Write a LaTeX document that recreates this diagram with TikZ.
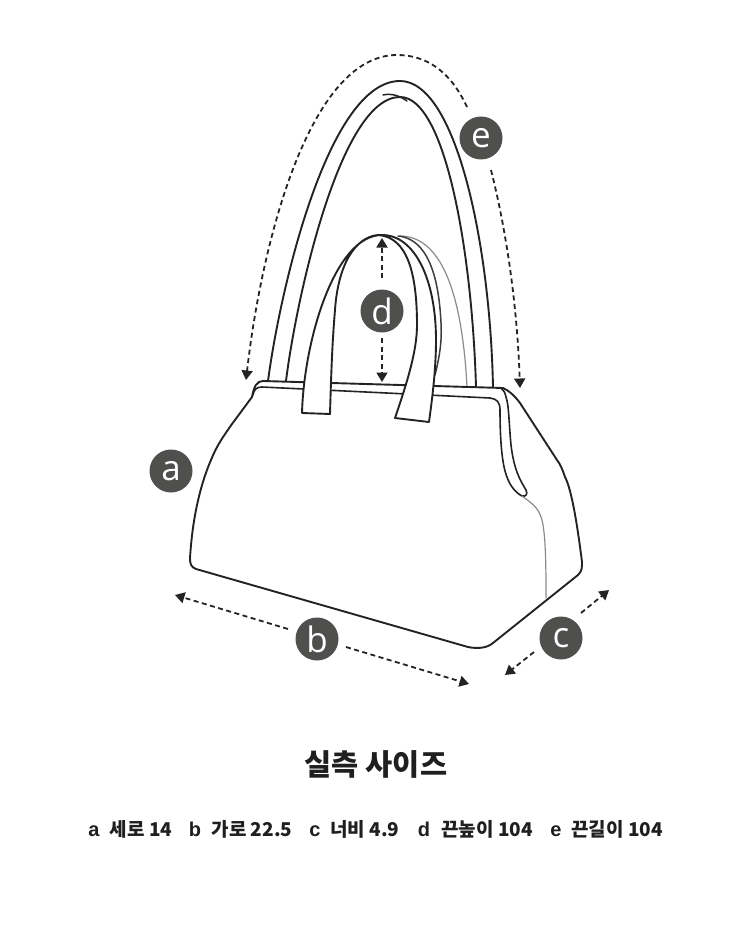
\documentclass[tikz,border=0pt]{standalone}
\usepackage{fontspec}
\setmainfont{Open Sans}
\newfontfamily\cjk{Noto Sans CJK KR}
\newfontfamily\keyfont{Liberation Sans}
\usetikzlibrary{arrows.meta}
\definecolor{ink}{HTML}{222322}
\definecolor{softink}{HTML}{3C3D3C}
\definecolor{badgec}{HTML}{4F504E}
\definecolor{seam}{HTML}{8A8B8A}
\definecolor{txt}{HTML}{1E1F1E}
\tikzset{
 outline/.style={draw=ink,line width=1.9pt,line join=round,line cap=round},
 thinline/.style={draw=seam,line width=1.2pt,line cap=round},
 badge/.style={circle,fill=badgec,draw=none,minimum size=43pt,inner sep=0pt,text=white,font=\fontsize{35}{35}\selectfont},
 dim/.style={draw=ink,line width=1.8pt,dash pattern=on 5pt off 3.5pt,-{Triangle[length=9.5pt,width=11pt]}},
 legend/.style={text=txt,inner sep=0pt,anchor=base,font=\cjk\bfseries\fontsize{19}{19}\selectfont},
 legendkey/.style={text=txt,inner sep=0pt,anchor=base,font=\keyfont\bfseries\fontsize{20}{20}\selectfont},
 title/.style={text=txt,inner sep=0pt,font=\cjk\bfseries\fontsize{29.5}{30}\selectfont}
}
\begin{document}
\begin{tikzpicture}[x=1pt,y=-1pt]
\useasboundingbox (0,0) rectangle (750,928);
% long strap
\draw[outline] (268,381) .. controls (280,290) and (328,81) .. (400,81) .. controls (455,81) and (490,240) .. (493,387);
\draw[outline] (286,381) .. controls (296,300) and (340,97) .. (400,97) .. controls (445,97) and (472,250) .. (476,387);
\draw[outline,line width=1.5pt] (383,95) .. controls (392,93) and (400,96) .. (407,101);
% back handle
\draw[thinline] (400,236) .. controls (440,236) and (462,290) .. (467,387);
\draw[outline,draw=softink,line width=1.5pt] (398,236) .. controls (420,238) and (438,260) .. (441,323) .. controls (442,340) and (440,355) .. (435,375);
% body
\draw[outline,fill=white] (252,397) -- (232,424) .. controls (225,434) and (220,441) .. (215,451) .. controls (203,476) and (193,510) .. (190,558) .. controls (190,564) and (191,567) .. (196,569)
 -- (468,647) .. controls (478,649) and (487,648) .. (493,643)
 -- (578,575) .. controls (582,571) and (582,568) .. (582,562)
 .. controls (578,530) and (572,490) .. (565,477) .. controls (562,468) and (560,464) .. (557,460)
 -- (520,403) .. controls (515,396) and (508,390) .. (503,388) -- (263,381) .. controls (257,381) and (254,386) .. (252,397) -- cycle;
% rim
\draw[outline,line width=1.6pt] (253,395) .. controls (254,390) and (256,387) .. (262,387) -- (490,398) .. controls (497,399) and (500,402) .. (500,410) .. controls (500,440) and (502,465) .. (507,477) .. controls (510,486) and (516,493) .. (522,496) .. controls (526,497) and (528,494) .. (526,490) .. controls (520,480) and (514,470) .. (511,445) .. controls (509,425) and (509,405) .. (506,397) .. controls (505,393) and (504,390) .. (501,388);
\draw[thinline] (522,496) .. controls (530,502) and (538,507) .. (541,517) .. controls (546,530) and (546,570) .. (546,598);
% front handle
\draw[outline,fill=white] (302,413) .. controls (304,340) and (335,235) .. (382,235) .. controls (415,235) and (436,280) .. (436,340) .. controls (436,370) and (432,400) .. (429,422)
 -- (395,418) .. controls (408,380) and (417,350) .. (417,325) .. controls (417,275) and (408,237) .. (378,235)
 .. controls (355,237) and (338,265) .. (335,310) .. controls (332,345) and (331,380) .. (330,414) -- cycle;
% badges
\node[badge] (a) at (171,471) {a};
\node[badge] (b) at (317,639) {b};
\node[badge] (c) at (561,638) {c};
\node[badge] (d) at (382,311) {d};
\node[badge] (e) at (481,138) {e};
% dimension ends
\coordinate (b1) at (175,595);
\coordinate (b2) at (469,684);
\coordinate (c1) at (505,675);
\coordinate (c2) at (609,590);
\coordinate (d1) at (382,238);
\coordinate (d2) at (382,382);
\coordinate (e1) at (246,380);
\coordinate (e2) at (520,388);
\draw[dim] ([shift={(-29,-10)}]b.center) -- (b1);
\draw[dim] ([shift={(29,8)}]b.center) -- (b2);
\draw[dim] ([shift={(-27,14)}]c.center) -- (c1);
\draw[dim] ([shift={(20,-25)}]c.center) -- (c2);
\draw[dim] ([shift={(0,-33)}]d.center) -- (d1);
\draw[dim] ([shift={(0,27)}]d.center) -- (d2);
\draw[dim] ([shift={(-14,-31)}]e.center) .. controls (450,70) and (425,55) .. (397,55) .. controls (310,55) and (262,240) .. (e1);
\draw[dim] ([shift={(10,32)}]e.center) .. controls (505,225) and (517,300) .. (e2);
% text
\node[title] (heading) at (376,764) {실측 사이즈};
\node[legendkey] (ka) at (94,836) {a};
\node[legend] (la) at (141,836) {세로 14};
\node[legendkey] (kb) at (195,836) {b};
\node[legend] (lb) at (252,836) {가로 22.5};
\node[legendkey] (kc) at (315,836) {c};
\node[legend] (lc) at (365,836) {너비 4.9};
\node[legendkey] (kd) at (424,836) {d};
\node[legend] (ld) at (487,836) {끈높이 104};
\node[legendkey] (ke) at (556,836) {e};
\node[legend] (le) at (617,836) {끈길이 104};
\end{tikzpicture}
\end{document}
